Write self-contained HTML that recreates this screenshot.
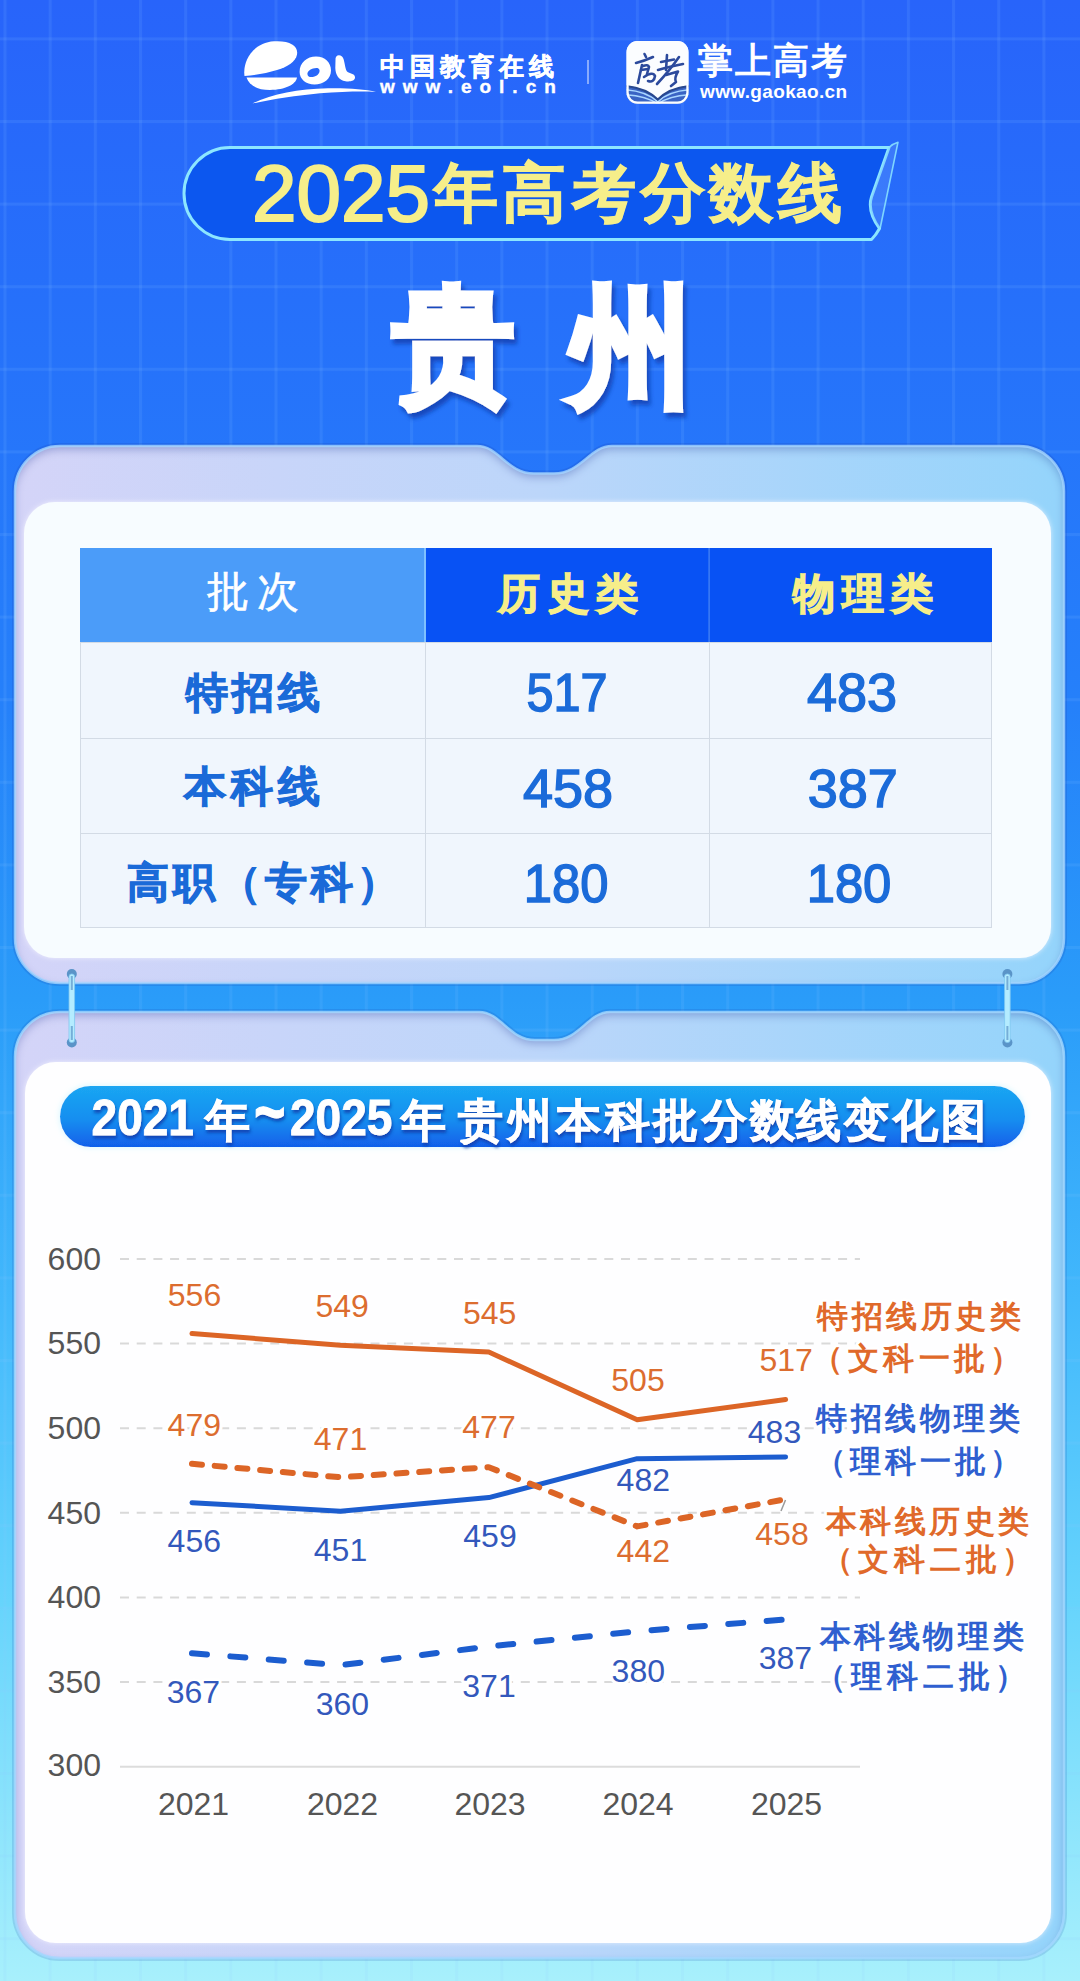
<!DOCTYPE html>
<html><head><meta charset="utf-8">
<style>
html,body{margin:0;padding:0;width:1080px;height:1981px;overflow:hidden;}
body{font-family:"Liberation Sans",sans-serif;position:relative;
background:linear-gradient(180deg,#2864fa 0px,#2670fa 300px,#2580fa 700px,#2a9cf9 1000px,#42b8fc 1300px,#66d4fc 1600px,#a8f0fc 1981px);}
svg{position:absolute;left:0;top:0;}
text{font-family:"Liberation Sans",sans-serif;}
</style></head><body>
<svg width="1080" height="1981" viewBox="0 0 1080 1981">
<defs>
  <pattern id="gridp" x="3.5" y="37.4" width="45.17" height="82.6" patternUnits="userSpaceOnUse">
    <rect x="0" y="0" width="3" height="82.6" fill="rgba(140,200,255,0.12)"/>
    <rect x="0" y="0" width="45.17" height="3" fill="rgba(140,200,255,0.12)"/>
  </pattern>
  <linearGradient id="frameg" x1="0" y1="0" x2="1" y2="0">
    <stop offset="0" stop-color="#d4d4f8"/>
    <stop offset="0.5" stop-color="#bcd6fa"/>
    <stop offset="1" stop-color="#94d4fb"/>
  </linearGradient>
  <linearGradient id="pillg" x1="0" y1="0" x2="0" y2="1">
    <stop offset="0" stop-color="#1aa6f2"/>
    <stop offset="0.55" stop-color="#168ef0"/>
    <stop offset="1" stop-color="#1160ea"/>
  </linearGradient>
  <filter id="tshadow" x="-10%" y="-10%" width="120%" height="130%">
    <feDropShadow dx="3" dy="5" stdDeviation="2" flood-color="#0a3aa8" flood-opacity="0.75"/>
  </filter>
  <filter id="tshadow2" x="-10%" y="-10%" width="120%" height="140%">
    <feDropShadow dx="1" dy="3" stdDeviation="1.5" flood-color="#0a3aa8" flood-opacity="0.8"/>
  </filter>
  <filter id="inset" x="-5%" y="-5%" width="110%" height="110%">
    <feFlood flood-color="#2f56b8" flood-opacity="0.55"/>
    <feComposite in2="SourceAlpha" operator="out"/>
    <feGaussianBlur stdDeviation="4"/>
    <feOffset dy="4"/>
    <feComposite in2="SourceAlpha" operator="in" result="sh"/>
    <feMerge><feMergeNode in="SourceGraphic"/><feMergeNode in="sh"/></feMerge>
  </filter>
  <filter id="pillglow" x="-5%" y="-30%" width="110%" height="160%">
    <feGaussianBlur in="SourceAlpha" stdDeviation="3"/>
    <feColorMatrix values="0 0 0 0 0.6  0 0 0 0 0.92  0 0 0 0 1  0 0 0 0.9 0"/>
    <feMerge><feMergeNode/><feMergeNode in="SourceGraphic"/></feMerge>
  </filter>
  <filter id="wglow" x="-3%" y="-3%" width="106%" height="106%">
    <feGaussianBlur in="SourceAlpha" stdDeviation="2.5"/>
    <feColorMatrix values="0 0 0 0 0.96  0 0 0 0 0.95  0 0 0 0 1  0 0 0 0.7 0"/>
    <feMerge><feMergeNode/><feMergeNode in="SourceGraphic"/></feMerge>
  </filter>
</defs>
<rect x="0" y="0" width="1080" height="1981" fill="url(#gridp)"/>

<!-- ===== logos ===== -->
<g fill="#fff">
  <path d="M244.5,76 C242.5,62 252,43 274,41.3 C290,40.3 298.5,46 297,54.5 C295.5,62 288,66.5 277,70 C267,73 256,75.2 244.5,76 Z"/>
  <path d="M246.5,77.6 L297,77.6 C296,84.5 285,90 270,90 C257,90 249,85 246.5,77.6 Z"/>
  <path d="M299.6,72 C299.6,62.5 307,56.5 316,56.5 C325,56.5 331,62.5 331,70.5 C331,79 323.5,84.5 314.5,84.5 C306,84.5 299.6,79 299.6,72 Z M307.5,74.5 C308,77.5 311.5,77.5 314.5,76.5 C318,75.5 320,72.5 319.5,70 C319,67.5 316,67.5 313,68.5 C309.5,69.5 307,72 307.5,74.5 Z" fill-rule="evenodd"/>
  <path d="M335.5,60 C335,55.5 339,53.8 342,56.5 C345,59.5 344.5,68 347,71.5 C349.5,74 354.5,73 355,77 C355.5,81 350,81.8 345.5,81.2 C339,80.5 335.5,75 335.3,68 Z"/>
  <path d="M252.5,103.5 C270,94.5 298,89 328,88.3 C348,88 365,89.2 376,91.8 C362,91.3 342,91.5 320,93.3 C296,95.5 272,99.5 252.5,103.5 Z"/>
</g>
<text x="380" y="74.5" font-size="25" font-weight="bold" fill="#fff" stroke="#fff" stroke-width="0.5" letter-spacing="4.8">中国教育在线</text>
<text x="380" y="93" font-size="19" font-weight="bold" fill="#fff" stroke="#fff" stroke-width="0.4" letter-spacing="8">www.eol.cn</text>
<rect x="587" y="60" width="2" height="24" fill="rgba(255,255,255,0.45)"/>
<!-- gaokao icon -->
<defs><clipPath id="gkclip"><rect x="626.6" y="41" width="61.8" height="62.6" rx="11"/></clipPath></defs>
<rect x="626.6" y="41" width="61.8" height="62.6" rx="11" fill="#fbfdff"/>
<g clip-path="url(#gkclip)">
  <path d="M620,85 Q645,86 657.8,99.5 Q670,86 695,85 V110 H620 Z" fill="#3a64c4"/>
  <path d="M620,89.5 Q645,90 657.8,101.8 Q670,90 695,89.5" stroke="#a9d6ff" stroke-width="1.6" fill="none"/>
  <path d="M620,94.5 Q645,95 657.8,104 Q670,95 695,94.5" stroke="#a9d6ff" stroke-width="1.6" fill="none"/>
  <path d="M620,85.5 Q645,86.5 657.8,99.5 Q670,86.5 695,85.5" stroke="#28488f" stroke-width="2" fill="none"/>
</g>
<rect x="627.6" y="42" width="59.8" height="60.6" rx="10" fill="none" stroke="#fbfdff" stroke-width="2.2"/>
<g stroke="#2c4a9c" stroke-width="2.6" fill="none" stroke-linecap="round" stroke-linejoin="round">
  <path d="M644.5,54 L646,57"/>
  <path d="M636,63 Q644,61 653,57"/>
  <path d="M642,65 L638,83"/>
  <path d="M643,66 Q648,64 649,67 L647,74"/>
  <path d="M641,70 L648,69"/>
  <path d="M644,77 Q653,71 655,76 Q654,83 648,81"/>
  <path d="M667,55 L666,70"/>
  <path d="M661,62 L674,59.5"/>
  <path d="M658,70 Q668,67 683,64"/>
  <path d="M679,57 Q670,70 657,84"/>
  <path d="M666,75 L678,71.5 Q674,78 676,82 L671,86"/>
</g>
<text x="697" y="72.5" font-size="36" fill="#fff" stroke="#fff" stroke-width="1.2" letter-spacing="2">掌上高考</text>
<text x="700" y="97.5" font-size="19" font-weight="bold" fill="#fff" letter-spacing="0.35">www.gaokao.cn</text>

<!-- ===== title banner ===== -->
<path d="M230,147.5 H889 L871.5,197 Q867,211 879.5,228.5 Q876,235 871.5,239.5 H230 A46,46 0 0 1 230,147.5 Z" fill="#0c57ef" stroke="#8ce6ff" stroke-width="3" stroke-linejoin="round"/>
<path d="M889,147.5 Q893,143.5 898,142.2 L880,229 Q867,211 871.5,197 Z" fill="rgba(110,160,255,0.28)"/>
<path d="M889,147.5 Q893,143.5 898,142.2 L880,229" fill="none" stroke="#8ce6ff" stroke-width="1.6" stroke-opacity="0.85" stroke-linejoin="round"/>
<g fill="#f6ee8a"><text x="252" y="220.8" font-size="80" stroke="#f6ee8a" stroke-width="2">2025</text>
<g font-size="64" font-weight="bold" stroke="#f6ee8a" stroke-width="1"><text x="434" y="214.5">年</text><text x="501.5" y="214.5">高</text><text x="572" y="214.5">考</text><text x="641" y="214.5">分</text><text x="709" y="214.5">数</text><text x="778" y="214.5">线</text></g></g>

<!-- ===== 贵州 ===== -->
<g fill="#fff" font-weight="bold" filter="url(#tshadow)" stroke="#fff" stroke-width="6" stroke-linejoin="miter"><text x="393" y="387" font-size="121">贵</text><text transform="translate(569,392) scale(0.96,1)" font-size="129">州</text></g>

<!-- ===== card 1 ===== -->
<path d="M60,446 H477 C499,446 507,473.5 534,473.5 H554 C581,473.5 590,446 612,446 H1019 A45,45 0 0 1 1064,491 V938 A45,45 0 0 1 1019,983 H60 A45,45 0 0 1 15,938 V491 A45,45 0 0 1 60,446 Z" fill="none" stroke="rgba(20,60,170,0.18)" stroke-width="6"/>
<path d="M60,446 H477 C499,446 507,473.5 534,473.5 H554 C581,473.5 590,446 612,446 H1019 A45,45 0 0 1 1064,491 V938 A45,45 0 0 1 1019,983 H60 A45,45 0 0 1 15,938 V491 A45,45 0 0 1 60,446 Z" fill="url(#frameg)" filter="url(#inset)"/>
<path d="M60,446 H477 C499,446 507,473.5 534,473.5 H554 C581,473.5 590,446 612,446 H1019 A45,45 0 0 1 1064,491 V938 A45,45 0 0 1 1019,983 H60 A45,45 0 0 1 15,938 V491 A45,45 0 0 1 60,446 Z" fill="none" stroke="#a4d4ff" stroke-width="2.5" stroke-opacity="0.8"/>
<rect x="24" y="502" width="1027" height="456" rx="31" fill="#f7fcff" filter="url(#wglow)"/>
<!-- table -->
<rect x="80" y="548" width="345" height="94" fill="#4b9cf9"/>
<rect x="425" y="548" width="567" height="94" fill="#0852f4"/>
<rect x="424" y="548" width="2" height="94" fill="#7ec0ff"/>
<rect x="708.5" y="548" width="1.2" height="94" fill="#4a88f4"/>
<rect x="80.5" y="642.5" width="911" height="285" fill="#f0f6fd" stroke="#d3dbe5" stroke-width="1"/>
<line x1="80" y1="738.5" x2="992" y2="738.5" stroke="#d3dbe5" stroke-width="1"/>
<line x1="80" y1="833.5" x2="992" y2="833.5" stroke="#d3dbe5" stroke-width="1"/>
<line x1="425.5" y1="642" x2="425.5" y2="928" stroke="#d3dbe5" stroke-width="1"/>
<line x1="709.5" y1="642" x2="709.5" y2="928" stroke="#d3dbe5" stroke-width="1"/>
<g font-size="42">
  <text x="207" y="605.5" fill="#fff" stroke="#fff" stroke-width="0.6" letter-spacing="8">批次</text>
  <text x="498" y="608" fill="#f6ee8a" stroke="#f6ee8a" stroke-width="1.2" font-weight="bold" letter-spacing="7.2">历史类</text>
  <text x="793" y="608" fill="#f6ee8a" stroke="#f6ee8a" stroke-width="1.2" font-weight="bold" letter-spacing="7.2">物理类</text>
</g>
<g font-size="42" font-weight="bold" fill="#1a6ad8" stroke="#1a6ad8" stroke-width="1">
  <text x="186" y="706.5" letter-spacing="4">特招线</text>
  <text x="184.4" y="801.3" letter-spacing="5">本科线</text>
  <text x="127" y="897" letter-spacing="4.1">高职（专科）</text>
</g>
<g font-size="54" fill="#1b6bd9" stroke="#1b6bd9" stroke-width="1.5" text-anchor="middle">
  <text transform="translate(567.1,711.2) scale(0.9,1)">517</text>
  <text transform="translate(852,711) scale(1.0,1)">483</text>
  <text transform="translate(568,806.5) scale(1.0,1)">458</text>
  <text transform="translate(852.8,806.5) scale(1.0,1)">387</text>
  <text transform="translate(566.2,901.8) scale(0.94,1)">180</text>
  <text transform="translate(849,901.8) scale(0.94,1)">180</text>
</g>

<!-- ===== card 2 ===== -->
<path d="M60,1012 H479 C501,1012 509,1040 535,1040 H554 C580,1040 588,1012 610,1012 H1019 A45,45 0 0 1 1064,1057 V1913 A45,45 0 0 1 1019,1958 H60 A45,45 0 0 1 15,1913 V1057 A45,45 0 0 1 60,1012 Z" fill="none" stroke="rgba(20,60,170,0.15)" stroke-width="6"/>
<path d="M60,1012 H479 C501,1012 509,1040 535,1040 H554 C580,1040 588,1012 610,1012 H1019 A45,45 0 0 1 1064,1057 V1913 A45,45 0 0 1 1019,1958 H60 A45,45 0 0 1 15,1913 V1057 A45,45 0 0 1 60,1012 Z" fill="url(#frameg)" filter="url(#inset)"/>
<path d="M60,1012 H479 C501,1012 509,1040 535,1040 H554 C580,1040 588,1012 610,1012 H1019 A45,45 0 0 1 1064,1057 V1913 A45,45 0 0 1 1019,1958 H60 A45,45 0 0 1 15,1913 V1057 A45,45 0 0 1 60,1012 Z" fill="none" stroke="#a4d8ff" stroke-width="2.5" stroke-opacity="0.8"/>
<rect x="25" y="1062" width="1026" height="881" rx="31" fill="#fefeff" filter="url(#wglow)"/>

<!-- connectors -->
<g>
  <circle cx="71.8" cy="974" r="5" fill="#5a94c8"/>
  <circle cx="71.8" cy="1042.5" r="5" fill="#5a94c8"/>
  <rect x="69.0" y="974" width="5.6" height="68.5" rx="2.5" fill="#b4ecff" stroke="#7ec6f0" stroke-width="0.8"/>
  <rect x="70.8" y="976" width="2" height="14" fill="#5a94c8" opacity="0.7"/>
  <rect x="70.8" y="1026" width="2" height="14" fill="#5a94c8" opacity="0.7"/>
  <circle cx="1007.4" cy="974" r="5" fill="#5a94c8"/>
  <circle cx="1007.4" cy="1042.5" r="5" fill="#5a94c8"/>
  <rect x="1004.6" y="974" width="5.6" height="68.5" rx="2.5" fill="#b4ecff" stroke="#7ec6f0" stroke-width="0.8"/>
  <rect x="1006.4" y="976" width="2" height="14" fill="#5a94c8" opacity="0.7"/>
  <rect x="1006.4" y="1026" width="2" height="14" fill="#5a94c8" opacity="0.7"/>

</g>

<!-- chart title pill -->
<rect x="60" y="1086" width="965" height="61" rx="30.5" fill="url(#pillg)" filter="url(#pillglow)"/>
<g fill="#fff" font-weight="bold" filter="url(#tshadow2)" stroke="#fff" stroke-width="0.8">
  <text transform="translate(91.6,1134.5) scale(1,1.1)" font-size="46">2021</text>
  <text transform="translate(254,1136) scale(1,1.3)" font-size="54">~</text>
  <text transform="translate(290,1134.5) scale(1,1.1)" font-size="46">2025</text>
  <text x="204.5" y="1135.5" font-size="45">年</text>
  <text x="401.0" y="1135.5" font-size="45">年</text>
  <text x="457.5" y="1135.5" font-size="45">贵</text>
  <text x="506.5" y="1135.5" font-size="45">州</text>
  <text x="555.5" y="1135.5" font-size="45">本</text>
  <text x="604.5" y="1135.5" font-size="45">科</text>
  <text x="653.0" y="1135.5" font-size="45">批</text>
  <text x="701.5" y="1135.5" font-size="45">分</text>
  <text x="750.0" y="1135.5" font-size="45">数</text>
  <text x="796.0" y="1135.5" font-size="45">线</text>
  <text x="843.5" y="1135.5" font-size="45">变</text>
  <text x="892.5" y="1135.5" font-size="45">化</text>
  <text x="940.5" y="1135.5" font-size="45">图</text>
</g>

<!-- ===== chart ===== -->
<g stroke="#d9d9d9" stroke-width="2" stroke-dasharray="9 7.7">
  <line x1="120" y1="1259.0" x2="860" y2="1259.0"/>
  <line x1="120" y1="1343.6" x2="860" y2="1343.6"/>
  <line x1="120" y1="1428.2" x2="860" y2="1428.2"/>
  <line x1="120" y1="1512.8" x2="860" y2="1512.8"/>
  <line x1="120" y1="1597.5" x2="860" y2="1597.5"/>
  <line x1="120" y1="1682.1" x2="860" y2="1682.1"/>
</g>
<line x1="120" y1="1766.7" x2="860" y2="1766.7" stroke="#dcdcdc" stroke-width="2"/>
<g font-size="32" fill="#555" text-anchor="end">
  <text x="101" y="1269.8">600</text>
  <text x="101" y="1354.4">550</text>
  <text x="101" y="1439.0">500</text>
  <text x="101" y="1523.6">450</text>
  <text x="101" y="1608.3">400</text>
  <text x="101" y="1692.9">350</text>
  <text x="101" y="1776.3">300</text>
</g>
<g font-size="32" fill="#555" text-anchor="middle">
  <text x="193.5" y="1814.6">2021</text>
  <text x="342.5" y="1814.6">2022</text>
  <text x="490" y="1814.6">2023</text>
  <text x="638" y="1814.6">2024</text>
  <text x="786.5" y="1814.6">2025</text>
</g>
<!-- series lines -->
<g fill="none" stroke-linejoin="round" stroke-linecap="round">
  <polyline points="192.0,1333.5 340.4,1345.3 488.8,1352.1 637.2,1419.8 785.6,1399.5" stroke="#dc6526" stroke-width="5"/>
  <polyline points="192.0,1502.7 340.4,1511.2 488.8,1497.6 637.2,1458.7 785.6,1457.0" stroke="#1c5dcf" stroke-width="5"/>
  <polyline points="192.0,1463.8 340.4,1477.3 488.8,1467.2 637.2,1526.4 785.6,1499.3" stroke="#dc6526" stroke-width="6" stroke-dasharray="10 12.8"/>
  <polyline points="192.0,1653.3 340.4,1665.2 488.8,1646.5 637.2,1631.3 785.6,1619.5" stroke="#1c5dcf" stroke-width="6" stroke-dasharray="15 23.5"/>
</g>
<!-- labels -->
<g font-size="32" text-anchor="middle" stroke="#fff" stroke-width="6" paint-order="stroke" stroke-linejoin="round">
  <g fill="#dc6d2f">
    <text x="194.5" y="1306">556</text>
    <text x="342.2" y="1317.4">549</text>
    <text x="489.6" y="1323.7">545</text>
    <text x="638" y="1391.4">505</text>
    <text x="786.2" y="1371">517</text>
    <text x="194.3" y="1436">479</text>
    <text x="340.5" y="1450">471</text>
    <text x="489" y="1437.8">477</text>
    <text x="643.3" y="1562">442</text>
    <text x="782" y="1545">458</text>
  </g>
  <g fill="#3358bc">
    <text x="194.3" y="1551.9">456</text>
    <text x="340.5" y="1561">451</text>
    <text x="490" y="1547">459</text>
    <text x="643.3" y="1491">482</text>
    <text x="774.5" y="1443">483</text>
    <text x="193.4" y="1703">367</text>
    <text x="342.4" y="1714.8">360</text>
    <text x="489" y="1696.7">371</text>
    <text x="638.3" y="1681.7">380</text>
    <text x="785.4" y="1668.8">387</text>
  </g>
</g>
<line x1="781" y1="1511" x2="785.5" y2="1500" stroke="#9a9a9a" stroke-width="1.5"/>
<!-- legend -->
<g font-size="31" font-weight="bold" stroke="#fff" stroke-width="6" paint-order="stroke" stroke-linejoin="round">
  <text x="817" y="1327" fill="#e0692a" letter-spacing="3.6">特招线历史类</text>
  <text x="812" y="1368.5" fill="#e0692a" letter-spacing="4.6">（文科一批）</text>
  <text x="816" y="1428.7" fill="#2f5fd0" letter-spacing="3.6">特招线物理类</text>
  <text x="814.7" y="1471.5" fill="#2f5fd0" letter-spacing="4">（理科一批）</text>
  <text x="825.5" y="1532" fill="#e0692a" letter-spacing="3.6">本科线历史类</text>
  <text x="821.7" y="1570" fill="#e0692a" letter-spacing="5">（文科二批）</text>
  <text x="819.7" y="1647" fill="#2f5fd0" letter-spacing="3.6">本科线物理类</text>
  <text x="814.7" y="1687" fill="#2f5fd0" letter-spacing="5">（理科二批）</text>
</g>
</svg>
</body></html>
